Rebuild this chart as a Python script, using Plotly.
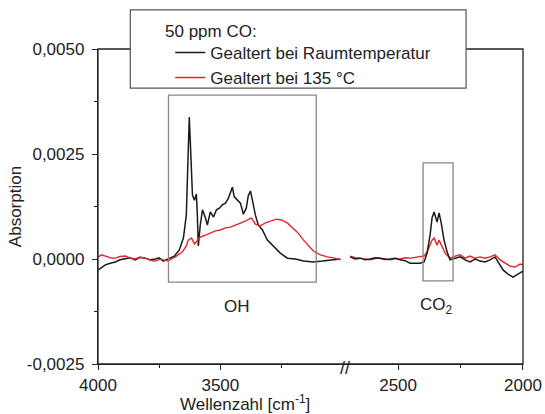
import plotly.graph_objects as go

# ---- data (wavenumber cm^-1, absorbance) ----
# left segment (4000 .. ~3000)
bl_x = [3999, 3985, 3970, 3950, 3929, 3910, 3888, 3868, 3848, 3828, 3807, 3786, 3766, 3750, 3733, 3713, 3700,
        3688, 3668, 3651, 3639, 3631, 3627, 3623, 3614, 3606, 3598, 3594, 3590, 3582, 3573, 3561, 3553, 3541,
        3528, 3516, 3504, 3492, 3479, 3467, 3459, 3451, 3443, 3430, 3418, 3406, 3394, 3386, 3377, 3369, 3357,
        3345, 3328, 3308, 3283, 3255, 3226, 3193, 3160, 3120, 3083, 3042, 3009]
bl_y = [-0.00026, -0.00020, -0.00014, -0.00010, -0.00007, -0.00002, 0.00000, 0.00003, -0.00002, 0.00004,
        0.00002, -0.00002, 0.00000, 0.00003, -0.00005, 0.00000, 0.00003, 0.00007, 0.00021, 0.00050, 0.00105,
        0.00236, 0.00338, 0.00283, 0.00152, 0.00140, 0.00155, 0.00105, 0.00031, 0.00081, 0.00117, 0.00098,
        0.00081, 0.00112, 0.00100, 0.00117, 0.00121, 0.00129, 0.00133, 0.00145, 0.00160, 0.00171, 0.00148,
        0.00140, 0.00133, 0.00107, 0.00121, 0.00150, 0.00162, 0.00140, 0.00105, 0.00081, 0.00069, 0.00045,
        0.00031, 0.00014, 0.00002, 0.00000, -0.00005, -0.00007, -0.00005, -0.00002, 0.00000]
rd_x = [3999, 3985, 3970, 3950, 3929, 3910, 3888, 3868, 3848, 3828, 3807, 3786, 3766, 3750, 3733, 3713, 3700,
        3684, 3655, 3639, 3631, 3618, 3606, 3594, 3582, 3561, 3541, 3520, 3500, 3479, 3459, 3438, 3418, 3398,
        3373, 3357, 3336, 3316, 3295, 3271, 3251, 3226, 3205, 3185, 3160, 3140, 3120, 3091, 3062, 3033, 3009]
rd_y = [0.00005, 0.00010, 0.00007, 0.00003, 0.00002, 0.00006, 0.00007, 0.00002, 0.00000, 0.00004, 0.00002,
        -0.00003, -0.00005, -0.00001, -0.00002, -0.00005, 0.00000, 0.00005, 0.00017, 0.00031, 0.00045, 0.00050,
        0.00036, 0.00045, 0.00052, 0.00057, 0.00062, 0.00067, 0.00069, 0.00074, 0.00076, 0.00081, 0.00086,
        0.00090, 0.00098, 0.00083, 0.00079, 0.00086, 0.00090, 0.00095, 0.00093, 0.00086, 0.00074, 0.00064,
        0.00045, 0.00031, 0.00019, 0.00010, 0.00005, 0.00002, -0.00002]
# right segment (~2700 .. 2000)
br_x = [2692, 2672, 2652, 2632, 2612, 2592, 2572, 2552, 2532, 2512, 2492, 2472, 2452, 2432, 2412, 2396, 2384,
        2372, 2364, 2356, 2348, 2344, 2336, 2328, 2316, 2304, 2292, 2272, 2252, 2232, 2212, 2192, 2172, 2152,
        2132, 2112, 2096, 2080, 2060, 2040, 2020, 2000]
br_y = [0.00005, 0.00000, 0.00002, -0.00002, 0.00000, 0.00003, 0.00002, -0.00001, 0.00000, 0.00002, -0.00002,
        -0.00004, -0.00010, -0.00010, -0.00010, -0.00007, 0.00014, 0.00057, 0.00098, 0.00112, 0.00093, 0.00088,
        0.00110, 0.00088, 0.00045, 0.00017, -0.00002, 0.00002, 0.00005, -0.00002, -0.00007, 0.00000, -0.00005,
        -0.00007, -0.00002, 0.00005, -0.00012, -0.00026, -0.00036, -0.00043, -0.00036, -0.00029]
rr_x = [2692, 2672, 2652, 2632, 2612, 2592, 2572, 2552, 2532, 2512, 2492, 2472, 2452, 2432, 2412, 2396, 2384,
        2372, 2364, 2356, 2344, 2336, 2324, 2312, 2292, 2272, 2252, 2232, 2212, 2192, 2172, 2152, 2132, 2112,
        2092, 2072, 2052, 2032, 2012, 2000]
rr_y = [0.00007, 0.00003, 0.00002, 0.00000, -0.00002, 0.00001, 0.00002, 0.00000, -0.00002, 0.00001, 0.00000,
        0.00003, 0.00002, 0.00004, 0.00005, 0.00007, 0.00017, 0.00036, 0.00045, 0.00050, 0.00033, 0.00045,
        0.00031, 0.00014, 0.00002, 0.00007, 0.00010, 0.00002, 0.00007, 0.00002, 0.00005, 0.00002, 0.00005,
        0.00010, -0.00002, -0.00010, -0.00017, -0.00019, -0.00012, -0.00014]

y_ticks = [-0.0025, 0.0, 0.0025, 0.0050]
y_ticktext = ["-0,0025", "0,0000", "0,0025", "0,0050"]
y_minor = [-0.00125, 0.00125, 0.00375]
xl_ticks = [4000, 3500]
xl_minor = [3750, 3250]
xr_ticks = [2500, 2000]
xr_minor = [2250]
series_names = ["Gealtert bei Raumtemperatur", "Gealtert bei 135 °C"]

BLACK = "#1a1a1a"
RED = "#e3242b"
BOXC = "#8e8482"
FONT = dict(family="Liberation Sans, Arial, sans-serif", size=17, color="#222222")

fig = go.Figure()
fig.add_trace(go.Scatter(x=bl_x, y=bl_y, mode="lines", line=dict(color=BLACK, width=1.5),
                         name=series_names[0], xaxis="x", yaxis="y"))
fig.add_trace(go.Scatter(x=rd_x, y=rd_y, mode="lines", line=dict(color=RED, width=1.4),
                         name=series_names[1], xaxis="x", yaxis="y"))
fig.add_trace(go.Scatter(x=rr_x, y=rr_y, mode="lines", line=dict(color=RED, width=1.4),
                         showlegend=False, xaxis="x2", yaxis="y"))
fig.add_trace(go.Scatter(x=br_x, y=br_y, mode="lines", line=dict(color=BLACK, width=1.5),
                         showlegend=False, xaxis="x2", yaxis="y"))

split = 0.5815
common_x = dict(showline=True, linecolor="#222", linewidth=1.3, ticks="outside", ticklen=5,
                tickcolor="#222", showgrid=False, zeroline=False, tickfont=FONT, automargin=False)
fig.update_layout(
    width=545, height=414,
    margin=dict(l=98, r=22, t=49, b=50),
    paper_bgcolor="white", plot_bgcolor="white",
    font=FONT,
    xaxis=dict(domain=[0, split], range=[4000, 2990], tickvals=xl_ticks,
               ticktext=[str(v) for v in xl_ticks],
               minor=dict(tickvals=xl_minor, ticks="outside", ticklen=3, tickcolor="#222"),
               anchor="y", **common_x),
    xaxis2=dict(domain=[split, 1], range=[2712, 2000], tickvals=xr_ticks,
                ticktext=[str(v) for v in xr_ticks],
                minor=dict(tickvals=xr_minor, ticks="outside", ticklen=3, tickcolor="#222"),
                anchor="y", **common_x),
    yaxis=dict(range=[-0.0025, 0.0050], tickvals=y_ticks, ticktext=y_ticktext,
               minor=dict(tickvals=y_minor, ticks="outside", ticklen=3, tickcolor="#222"),
               showline=True, linecolor="#222", linewidth=1.3, ticks="outside", ticklen=5,
               tickcolor="#222", showgrid=False, zeroline=False, tickfont=FONT, automargin=False,
               ticklabelstandoff=4,
               title=dict(text="Absorption", font=FONT, standoff=0)),
    legend=dict(x=0.17, y=1.045, xanchor="left", yanchor="top", bgcolor="rgba(0,0,0,0)",
                borderwidth=0, font=FONT, tracegroupgap=0),
    showlegend=True,
)

shapes = [
    # frame
    dict(type="rect", xref="paper", yref="paper", x0=0, x1=1, y0=0, y1=1,
         line=dict(color="#222", width=1.3), layer="above"),
    # legend box
    dict(type="rect", xref="paper", yref="paper", x0=0.076, x1=0.866, y0=0.876, y1=1.124,
         line=dict(color="#555", width=1.2), fillcolor="white", layer="above"),
    # OH box
    dict(type="rect", xref="x", yref="y", x0=3712, x1=3108, y0=-0.00055, y1=0.0039,
         line=dict(color=BOXC, width=1.3), layer="above"),
    # CO2 box
    dict(type="rect", xref="x2", yref="y", x0=2400, x1=2280, y0=-0.00052, y1=0.00229,
         line=dict(color=BOXC, width=1.3), layer="above"),
]
fig.update_layout(shapes=shapes)

fig.add_annotation(x=0.153, y=1.057, xref="paper", yref="paper", text="50 ppm CO:", showarrow=False,
                   font=FONT, xanchor="left", yanchor="middle")
fig.add_annotation(x=3431, y=-0.00112, xref="x", yref="y", text="OH", showarrow=False, font=FONT)
fig.add_annotation(x=2348, y=-0.00112, xref="x2", yref="y", text="CO<sub>2</sub>", showarrow=False, font=FONT)
fig.add_annotation(x=split, y=0, xref="paper", yref="paper", text="//", showarrow=False, yshift=-16,
                   font=dict(family="Liberation Sans, Arial, sans-serif", size=18, color="#222"))
fig.add_annotation(x=0.345, y=-0.083, xref="paper", yref="paper", text="Wellenzahl [cm<sup>-1</sup>]",
                   showarrow=False, font=FONT, yanchor="top", xanchor="center")

fig.write_html("out.html")
